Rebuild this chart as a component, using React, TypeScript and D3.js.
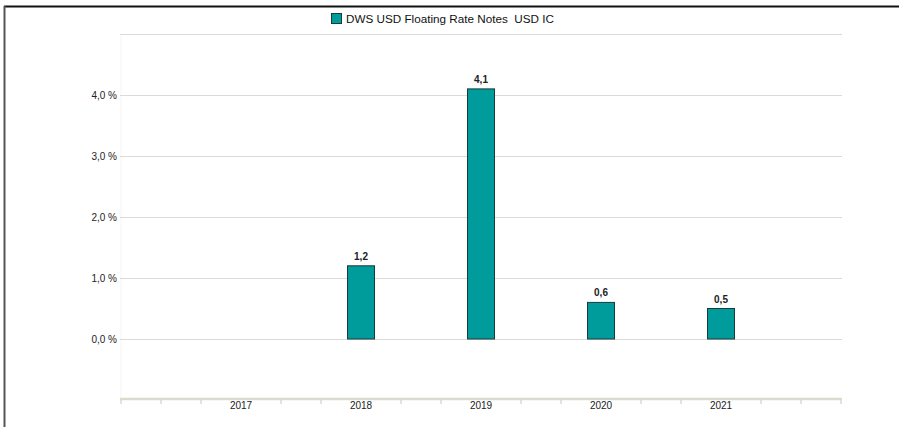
import React from "react";
import * as d3 from "d3";

const categories: string[] = ["2017", "2018", "2019", "2020", "2021"];
const values: (number | null)[] = [null, 1.2, 4.1, 0.6, 0.5];
const yTicks: number[] = [0, 1, 2, 3, 4, 5];
const seriesName = "DWS USD Floating Rate Notes  USD IC";

const W = 899;
const H = 427;
const fmt = (v: number) => v.toFixed(1).replace(".", ",");

export default function App() {
  const x = d3.scalePoint<string>().domain(categories).range([121, 841]).padding(1);
  const y = d3.scaleLinear().domain([0, 5]).range([339, 34]);
  const step = x.step();
  const minor = d3.range(121, 842, step / 3).filter(
    (p) => !categories.some((c) => Math.abs((x(c) as number) - p) < 1)
  );
  const barW = 27;
  const teal = "#009c9c";
  const font = "Arial, 'Liberation Sans', sans-serif";

  return (
    <svg
      width={W}
      height={H}
      style={{ position: "absolute", left: 0, top: 0, background: "#fff" }}
      fontFamily={font}
    >
      {/* frame */}
      <line x1={4} y1={6.5} x2={W} y2={6.5} stroke="#111" strokeWidth={2} />
      <line x1={4.5} y1={6} x2={4.5} y2={H} stroke="#555" strokeWidth={2} />

      {/* legend */}
      <rect x={331.5} y={13.5} width={10} height={10} fill={teal} stroke="#1a3b3b" strokeWidth={1} />
      <text x={346} y={22.5} fontSize={11.7} fill="#111" style={{ whiteSpace: "pre" }}>
        {seriesName}
      </text>

      {/* faint left plot edge */}
      <line x1={121} y1={34} x2={121} y2={398} stroke="#f7f6f3" strokeWidth={1} />

      {/* grid */}
      {yTicks.map((t) => (
        <g key={t}>
          <line x1={120} x2={842} y1={y(t) + 0.5} y2={y(t) + 0.5} stroke="#dcdad2" strokeWidth={1.2} />
          {t < 5 && (
            <text x={117} y={y(t) + 3.5} fontSize={10} textAnchor="end" fill="#222">
              {fmt(t) + " %"}
            </text>
          )}
        </g>
      ))}

      {/* bars */}
      {categories.map((c, i) => {
        const v = values[i];
        if (v == null) return null;
        const cx = x(c) as number;
        return (
          <g key={c}>
            <rect
              x={cx - barW / 2}
              y={y(v)}
              width={barW}
              height={y(0) - y(v)}
              fill={teal}
              stroke="#1a3b3b"
              strokeWidth={1}
            />
            <text x={cx} y={y(v) - 6} fontSize={10} fontWeight="bold" textAnchor="middle" fill="#222">
              {fmt(v)}
            </text>
          </g>
        );
      })}

      {/* x axis */}
      <line x1={120} x2={842} y1={399} y2={399} stroke="#dcd9cf" strokeWidth={2.5} />
      {minor.map((p) => (
        <line key={p} x1={p} x2={p} y1={399} y2={404} stroke="#dcd9cf" strokeWidth={1.5} />
      ))}
      {categories.map((c) => (
        <text key={c} x={x(c) as number} y={409} fontSize={10} textAnchor="middle" fill="#222">
          {c}
        </text>
      ))}
    </svg>
  );
}
